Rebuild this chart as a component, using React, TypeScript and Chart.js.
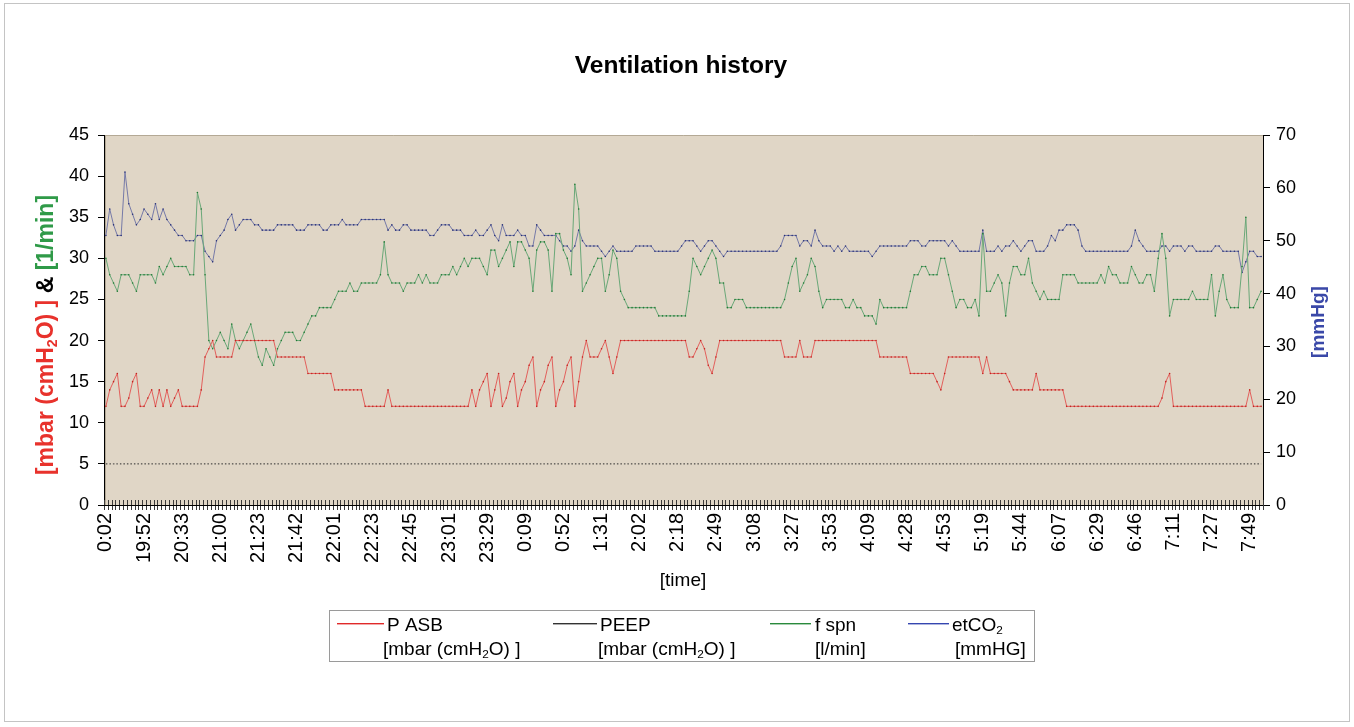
import React, { useEffect, useRef } from 'react';
import { Chart, registerables } from 'chart.js';

Chart.register(...registerables);

const FONT = '"Liberation Sans", Arial, Helvetica, sans-serif';

// x-axis tick labels (one every 10 samples)
const tickLabels = [
  '0:02', '19:52', '20:33', '21:00', '21:23', '21:42', '22:01', '22:23', '22:45', '23:01',
  '23:29', '0:09', '0:52', '1:31', '2:02', '2:18', '2:49', '3:08', '3:27', '3:53',
  '4:09', '4:28', '4:53', '5:19', '5:44', '6:07', '6:29', '6:46', '7:11', '7:27', '7:49',
];
const LABEL_EVERY = 10;

// P ASB [mbar (cmH2O)] - left axis
const pAsb = [
  12, 14, 15, 16, 12, 12, 13, 15, 16, 12,
  12, 13, 14, 12, 14, 12, 14, 12, 13, 14,
  12, 12, 12, 12, 12, 14, 18, 19, 20, 18,
  18, 18, 18, 18, 20, 20, 20, 20, 20, 20,
  20, 20, 20, 20, 20, 18, 18, 18, 18, 18,
  18, 18, 18, 16, 16, 16, 16, 16, 16, 16,
  14, 14, 14, 14, 14, 14, 14, 14, 12, 12,
  12, 12, 12, 12, 14, 12, 12, 12, 12, 12,
  12, 12, 12, 12, 12, 12, 12, 12, 12, 12,
  12, 12, 12, 12, 12, 12, 14, 12, 14, 15,
  16, 12, 14, 16, 12, 13, 15, 16, 12, 14,
  15, 17, 18, 12, 14, 15, 17, 18, 12, 14,
  15, 17, 18, 12, 15, 18, 20, 18, 18, 18,
  19, 20, 18, 16, 18, 20, 20, 20, 20, 20,
  20, 20, 20, 20, 20, 20, 20, 20, 20, 20,
  20, 20, 20, 18, 18, 19, 20, 19, 17, 16,
  18, 20, 20, 20, 20, 20, 20, 20, 20, 20,
  20, 20, 20, 20, 20, 20, 20, 20, 18, 18,
  18, 18, 20, 18, 18, 18, 20, 20, 20, 20,
  20, 20, 20, 20, 20, 20, 20, 20, 20, 20,
  20, 20, 20, 18, 18, 18, 18, 18, 18, 18,
  18, 16, 16, 16, 16, 16, 16, 16, 15, 14,
  16, 18, 18, 18, 18, 18, 18, 18, 18, 18,
  16, 18, 16, 16, 16, 16, 16, 15, 14, 14,
  14, 14, 14, 14, 16, 14, 14, 14, 14, 14,
  14, 14, 12, 12, 12, 12, 12, 12, 12, 12,
  12, 12, 12, 12, 12, 12, 12, 12, 12, 12,
  12, 12, 12, 12, 12, 12, 12, 13, 15, 16,
  12, 12, 12, 12, 12, 12, 12, 12, 12, 12,
  12, 12, 12, 12, 12, 12, 12, 12, 12, 12,
  14, 12, 12, 12,
];

// PEEP [mbar (cmH2O)] - left axis
const peep = [
  5, 5, 5, 5, 5, 5, 5, 5, 5, 5,
  5, 5, 5, 5, 5, 5, 5, 5, 5, 5,
  5, 5, 5, 5, 5, 5, 5, 5, 5, 5,
  5, 5, 5, 5, 5, 5, 5, 5, 5, 5,
  5, 5, 5, 5, 5, 5, 5, 5, 5, 5,
  5, 5, 5, 5, 5, 5, 5, 5, 5, 5,
  5, 5, 5, 5, 5, 5, 5, 5, 5, 5,
  5, 5, 5, 5, 5, 5, 5, 5, 5, 5,
  5, 5, 5, 5, 5, 5, 5, 5, 5, 5,
  5, 5, 5, 5, 5, 5, 5, 5, 5, 5,
  5, 5, 5, 5, 5, 5, 5, 5, 5, 5,
  5, 5, 5, 5, 5, 5, 5, 5, 5, 5,
  5, 5, 5, 5, 5, 5, 5, 5, 5, 5,
  5, 5, 5, 5, 5, 5, 5, 5, 5, 5,
  5, 5, 5, 5, 5, 5, 5, 5, 5, 5,
  5, 5, 5, 5, 5, 5, 5, 5, 5, 5,
  5, 5, 5, 5, 5, 5, 5, 5, 5, 5,
  5, 5, 5, 5, 5, 5, 5, 5, 5, 5,
  5, 5, 5, 5, 5, 5, 5, 5, 5, 5,
  5, 5, 5, 5, 5, 5, 5, 5, 5, 5,
  5, 5, 5, 5, 5, 5, 5, 5, 5, 5,
  5, 5, 5, 5, 5, 5, 5, 5, 5, 5,
  5, 5, 5, 5, 5, 5, 5, 5, 5, 5,
  5, 5, 5, 5, 5, 5, 5, 5, 5, 5,
  5, 5, 5, 5, 5, 5, 5, 5, 5, 5,
  5, 5, 5, 5, 5, 5, 5, 5, 5, 5,
  5, 5, 5, 5, 5, 5, 5, 5, 5, 5,
  5, 5, 5, 5, 5, 5, 5, 5, 5, 5,
  5, 5, 5, 5, 5, 5, 5, 5, 5, 5,
  5, 5, 5, 5, 5, 5, 5, 5, 5, 5,
  5, 5, 5, 5,
];

// f spn [1/min] - left axis
const fSpn = [
  30, 28, 27, 26, 28, 28, 28, 27, 26, 28,
  28, 28, 28, 27, 29, 28, 29, 30, 29, 29,
  29, 29, 28, 28, 38, 36, 28, 20, 19, 20,
  21, 20, 19, 22, 20, 19, 20, 21, 22, 20,
  18, 17, 19, 18, 17, 19, 20, 21, 21, 21,
  20, 20, 21, 22, 23, 23, 24, 24, 24, 24,
  25, 26, 26, 26, 27, 26, 26, 27, 27, 27,
  27, 27, 28, 32, 28, 27, 27, 27, 26, 27,
  27, 27, 28, 27, 28, 27, 27, 27, 28, 28,
  28, 29, 28, 29, 30, 29, 30, 30, 30, 29,
  28, 31, 31, 29, 30, 31, 32, 29, 32, 32,
  31, 30, 26, 31, 32, 32, 31, 26, 33, 33,
  31, 30, 28, 39, 36, 26, 27, 28, 29, 30,
  30, 26, 28, 31, 30, 26, 25, 24, 24, 24,
  24, 24, 24, 24, 24, 23, 23, 23, 23, 23,
  23, 23, 23, 26, 30, 29, 28, 29, 30, 31,
  30, 27, 27, 24, 24, 25, 25, 25, 24, 24,
  24, 24, 24, 24, 24, 24, 24, 24, 25, 27,
  29, 30, 26, 27, 28, 30, 29, 26, 24, 25,
  25, 25, 25, 25, 24, 24, 25, 24, 24, 23,
  23, 23, 22, 25, 24, 24, 24, 24, 24, 24,
  24, 26, 28, 28, 29, 29, 28, 28, 28, 30,
  30, 28, 26, 24, 25, 25, 24, 24, 25, 23,
  33, 26, 26, 27, 28, 27, 23, 27, 29, 29,
  28, 28, 30, 27, 26, 25, 26, 25, 25, 25,
  25, 28, 28, 28, 28, 27, 27, 27, 27, 27,
  27, 28, 27, 29, 28, 28, 27, 27, 27, 29,
  28, 27, 27, 28, 28, 26, 30, 33, 30, 23,
  25, 25, 25, 25, 25, 26, 25, 25, 25, 25,
  28, 23, 26, 28, 25, 24, 24, 24, 29, 35,
  24, 24, 25, 26,
];

// etCO2 [mmHg] - right axis
const etCO2 = [
  51, 56, 53, 51, 51, 63, 57, 55, 53, 54,
  56, 55, 54, 57, 54, 56, 54, 53, 52, 51,
  51, 50, 50, 50, 51, 51, 48, 47, 46, 50,
  51, 52, 54, 55, 52, 53, 54, 54, 54, 53,
  53, 52, 52, 52, 52, 53, 53, 53, 53, 53,
  52, 52, 52, 53, 53, 53, 53, 52, 52, 53,
  53, 53, 54, 53, 53, 53, 53, 54, 54, 54,
  54, 54, 54, 54, 52, 53, 52, 52, 53, 53,
  52, 52, 52, 52, 52, 51, 51, 52, 53, 53,
  53, 52, 52, 52, 51, 51, 51, 52, 51, 51,
  52, 53, 51, 50, 53, 51, 51, 51, 52, 51,
  51, 49, 49, 53, 52, 51, 51, 51, 51, 50,
  49, 49, 48, 49, 52, 50, 49, 49, 49, 49,
  48, 47, 48, 49, 48, 48, 48, 48, 48, 49,
  49, 49, 49, 49, 48, 48, 48, 48, 48, 48,
  48, 49, 50, 50, 50, 49, 48, 49, 50, 50,
  49, 48, 47, 48, 48, 48, 48, 48, 48, 48,
  48, 48, 48, 48, 48, 48, 48, 49, 51, 51,
  51, 51, 49, 50, 50, 49, 52, 50, 49, 49,
  49, 48, 49, 48, 49, 48, 48, 48, 48, 48,
  48, 47, 48, 49, 49, 49, 49, 49, 49, 49,
  49, 50, 50, 50, 49, 49, 50, 50, 50, 50,
  50, 49, 50, 49, 48, 48, 48, 48, 48, 48,
  52, 48, 48, 48, 49, 48, 49, 49, 50, 49,
  48, 49, 50, 50, 48, 48, 48, 49, 51, 50,
  52, 52, 53, 53, 53, 52, 49, 48, 48, 48,
  48, 48, 48, 48, 48, 48, 48, 48, 48, 49,
  52, 50, 49, 48, 48, 48, 48, 49, 49, 48,
  49, 49, 49, 48, 49, 49, 48, 48, 48, 48,
  48, 49, 49, 48, 48, 48, 48, 48, 44, 46,
  48, 48, 47, 47,
];

const COLORS = {
  plotBg: '#e0d6c6',
  red: '#e3605c',
  redDot: '#c2221e',
  peep: '#2a2a2a',
  green: '#6aa878',
  greenDot: '#1f7a33',
  blue: '#767aa8',
  blueDot: '#263078',
  titleRed: '#e8322c',
  titleGreen: '#2f9a48',
  titleBlue: '#3a48a8',
  legRed: '#e02a2a',
  legBlack: '#333333',
  legGreen: '#2a8a3c',
  legBlue: '#3546b0',
};

type Run = { t: string; c: string; sub?: boolean };

function fontStr(size: number, bold: boolean) {
  return `${bold ? 'bold ' : ''}${size}px ${FONT}`;
}

function measureRuns(ctx: CanvasRenderingContext2D, runs: Run[], size: number, bold: boolean) {
  let w = 0;
  for (const r of runs) {
    ctx.font = fontStr(r.sub ? size * 0.62 : size, bold);
    w += ctx.measureText(r.t).width;
  }
  return w;
}

function drawRuns(ctx: CanvasRenderingContext2D, runs: Run[], x: number, y: number, size: number, bold: boolean) {
  let cx = x;
  ctx.textBaseline = 'middle';
  ctx.textAlign = 'left';
  for (const r of runs) {
    const fs = r.sub ? size * 0.62 : size;
    ctx.font = fontStr(fs, bold);
    ctx.fillStyle = r.c;
    ctx.fillText(r.t, cx, r.sub ? y + size * 0.25 : y);
    cx += ctx.measureText(r.t).width;
  }
}

const decorPlugin = {
  id: 'decor',
  beforeDraw(chart: any) {
    const { ctx, chartArea: a, width, height } = chart;
    ctx.save();
    ctx.fillStyle = '#ffffff';
    ctx.fillRect(0, 0, width, height);
    ctx.fillStyle = COLORS.plotBg;
    ctx.fillRect(a.left, a.top, a.right - a.left, a.bottom - a.top);
    ctx.strokeStyle = '#b4a995';
    ctx.lineWidth = 1;
    ctx.beginPath();
    ctx.moveTo(a.left, a.top + 0.5);
    ctx.lineTo(a.right, a.top + 0.5);
    ctx.moveTo(a.left + 1.5, a.top);
    ctx.lineTo(a.left + 1.5, a.bottom);
    ctx.stroke();
    // outer chart frame
    ctx.strokeStyle = '#c4c4c4';
    ctx.strokeRect(4.5, 3.5, width - 9, height - 9);
    ctx.restore();
  },
  afterDraw(chart: any) {
    const { ctx, chartArea: a } = chart;
    const n = chart.data.labels.length;
    const step = (a.right - a.left) / n;
    ctx.save();
    // category tick marks crossing the x axis
    ctx.lineWidth = 1;
    ctx.strokeStyle = '#3a3a3a';
    ctx.beginPath();
    for (let i = 0; i <= n; i++) {
      const x = Math.round(a.left + i * step) + 0.5;
      ctx.moveTo(x, a.bottom - 5);
      ctx.lineTo(x, a.bottom + 5);
    }
    ctx.stroke();
    ctx.strokeStyle = '#000';
    ctx.beginPath();
    ctx.moveTo(a.left, a.bottom + 0.5);
    ctx.lineTo(a.right, a.bottom + 0.5);
    ctx.stroke();

    // title
    ctx.fillStyle = '#000';
    ctx.font = fontStr(24.5, true);
    ctx.textAlign = 'center';
    ctx.textBaseline = 'middle';
    ctx.fillText('Ventilation history', 681, 66);

    // x axis title
    ctx.font = fontStr(19, false);
    ctx.fillText('[time]', 683, 581);

    // left axis title (multi coloured, rotated)
    const leftRuns: Run[] = [
      { t: '[mbar (cmH', c: COLORS.titleRed },
      { t: '2', c: COLORS.titleRed, sub: true },
      { t: 'O) ]', c: COLORS.titleRed },
      { t: ' & ', c: '#000' },
      { t: '[1/min]', c: COLORS.titleGreen },
    ];
    const lsz = 23;
    const lw = measureRuns(ctx, leftRuns, lsz, true);
    ctx.save();
    ctx.translate(47, 335);
    ctx.rotate(-Math.PI / 2);
    drawRuns(ctx, leftRuns, -lw / 2, 0, lsz, true);
    ctx.restore();

    // right axis title
    ctx.save();
    ctx.translate(1319, 322);
    ctx.rotate(-Math.PI / 2);
    ctx.font = fontStr(19, true);
    ctx.fillStyle = COLORS.titleBlue;
    ctx.textAlign = 'center';
    ctx.textBaseline = 'middle';
    ctx.fillText('[mmHg]', 0, 0);
    ctx.restore();

    // legend
    ctx.strokeStyle = '#9a9a9a';
    ctx.lineWidth = 1;
    ctx.strokeRect(329.5, 610.5, 705, 51);
    const lsize = 19;
    const entries = [
      { color: COLORS.legRed, x1: 337, x2: 384, tx: 387, l1: [{ t: 'P ASB', c: '#000' }], l2x: 383, l2: [{ t: '[mbar (cmH', c: '#000' }, { t: '2', c: '#000', sub: true }, { t: 'O) ]', c: '#000' }] },
      { color: COLORS.legBlack, x1: 553, x2: 597, tx: 600, l1: [{ t: 'PEEP', c: '#000' }], l2x: 598, l2: [{ t: '[mbar (cmH', c: '#000' }, { t: '2', c: '#000', sub: true }, { t: 'O) ]', c: '#000' }] },
      { color: COLORS.legGreen, x1: 770, x2: 811, tx: 815, l1: [{ t: 'f spn', c: '#000' }], l2x: 815, l2: [{ t: '[l/min]', c: '#000' }] },
      { color: COLORS.legBlue, x1: 908, x2: 949, tx: 952, l1: [{ t: 'etCO', c: '#000' }, { t: '2', c: '#000', sub: true }], l2x: 955, l2: [{ t: '[mmHG]', c: '#000' }] },
    ];
    for (const e of entries) {
      ctx.fillStyle = e.color;
      ctx.fillRect(e.x1, 623, e.x2 - e.x1, 1.4);
      drawRuns(ctx, e.l1 as Run[], e.tx, 626, lsize, false);
      drawRuns(ctx, e.l2 as Run[], e.l2x, 650, lsize, false);
    }
    ctx.restore();
  },
};

export default function App() {
  const ref = useRef<HTMLCanvasElement>(null);
  useEffect(() => {
    document.body.style.margin = '0';
    const canvas = ref.current;
    if (!canvas) return;
    const labels = pAsb.map((_, i) =>
      i % LABEL_EVERY === 0 && tickLabels[i / LABEL_EVERY] !== undefined ? tickLabels[i / LABEL_EVERY] : ''
    );
    const chart = new Chart(canvas, {
      type: 'line',
      data: {
        labels,
        datasets: [
          {
            label: 'P ASB',
            data: pAsb,
            yAxisID: 'y',
            borderColor: COLORS.red,
            borderWidth: 1,
            pointRadius: 0.8,
            pointBorderWidth: 0,
            pointBackgroundColor: COLORS.redDot,
          },
          {
            label: 'PEEP',
            data: peep,
            yAxisID: 'y',
            borderColor: COLORS.peep,
            borderWidth: 1,
            borderDash: [1.5, 2],
            pointRadius: 0,
          },
          {
            label: 'f spn',
            data: fSpn,
            yAxisID: 'y',
            borderColor: COLORS.green,
            borderWidth: 1,
            pointRadius: 0.8,
            pointBorderWidth: 0,
            pointBackgroundColor: COLORS.greenDot,
          },
          {
            label: 'etCO2',
            data: etCO2,
            yAxisID: 'y1',
            borderColor: COLORS.blue,
            borderWidth: 1,
            pointRadius: 0.8,
            pointBorderWidth: 0,
            pointBackgroundColor: COLORS.blueDot,
          },
        ],
      },
      options: {
        animation: false,
        responsive: false,
        devicePixelRatio: 1,
        events: [],
        layout: { padding: { top: 135, left: 0, right: 0, bottom: 0 } },
        elements: { line: { tension: 0 } },
        plugins: {
          legend: { display: false },
          title: { display: false },
          tooltip: { enabled: false },
        },
        scales: {
          x: {
            type: 'category',
            offset: true,
            grid: { display: false, drawTicks: false },
            border: { display: false },
            ticks: {
              autoSkip: false,
              minRotation: 90,
              maxRotation: 90,
              padding: 8,
              color: '#000',
              font: { family: FONT, size: 20 },
            },
            afterFit: (s: any) => {
              s.height = 727 - 505;
            },
          },
          y: {
            position: 'left',
            min: 0,
            max: 45,
            ticks: { stepSize: 5, padding: 9, color: '#000', font: { family: FONT, size: 18 } },
            grid: { drawOnChartArea: false, tickLength: 6, color: '#000' },
            border: { display: true, color: '#000', width: 1 },
            afterFit: (s: any) => {
              s.width = 104;
            },
          },
          y1: {
            position: 'right',
            min: 0,
            max: 70,
            ticks: { stepSize: 10, padding: 6, color: '#000', font: { family: FONT, size: 18 } },
            grid: { drawOnChartArea: false, tickLength: 7, color: '#000' },
            border: { display: true, color: '#000', width: 1 },
            afterFit: (s: any) => {
              s.width = 1354 - 1263;
            },
          },
        },
      },
      plugins: [decorPlugin],
    });
    return () => chart.destroy();
  }, []);
  return <canvas ref={ref} width={1354} height={727} style={{ display: 'block' }} />;
}
